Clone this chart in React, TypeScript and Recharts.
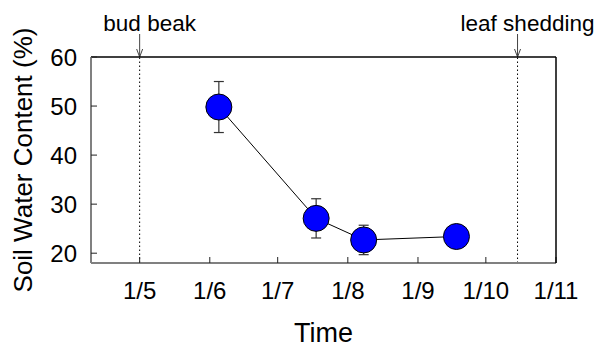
import React from 'react';
import {
  ComposedChart,
  Line,
  ErrorBar,
  XAxis,
  YAxis,
  ReferenceLine
} from 'recharts';

// day of year (non-leap): sampling dates
const sampleDays = [156, 199, 220, 261]; // 5 Jun, 18 Jul, 8 Aug, 18 Sep
const soilWater = [49.8, 27.1, 22.7, 23.4];
const soilWaterErr = [5.2, 4.0, 3.0, 0.8];

// month starts, labelled day/month
const tickDays = [121, 152, 182, 213, 244, 274, 305];
const tickLabels = ['1/5', '1/6', '1/7', '1/8', '1/9', '1/10', '1/11'];
const yTicks = [20, 30, 40, 50, 60];

const budBreakDay = 121;
const leafSheddingDay = 288;

const X_DOMAIN: [number, number] = [99.5, 305];
const Y_DOMAIN: [number, number] = [18, 60];

const data = sampleDays.map((day, i) => ({
  day,
  swc: soilWater[i],
  err: soilWaterErr[i]
}));

// five minor intervals per month
const minorTicks: number[] = [];
for (let i = 0; i < tickDays.length - 1; i++) {
  const step = (tickDays[i + 1] - tickDays[i]) / 5;
  for (let k = 1; k < 5; k++) minorTicks.push(tickDays[i] + k * step);
}
for (let k = 1; tickDays[0] - k * 6.2 > X_DOMAIN[0]; k++) {
  minorTicks.push(tickDays[0] - k * 6.2);
}

const fontFamily = '"Liberation Sans", Arial, Helvetica, sans-serif';

const annotation = (text: string) => (props: any) => {
  const { x, y } = props.viewBox;
  return (
    <g>
      <text
        x={x + 10}
        y={y - 26}
        textAnchor="middle"
        fontSize={22.5}
        fill="#000"
        fontFamily={fontFamily}
      >
        {text}
      </text>
      <line x1={x} y1={y - 23} x2={x} y2={y} stroke="#444" strokeWidth={1} />
      <polyline
        points={`${x - 3},${y - 8} ${x},${y} ${x + 3},${y - 8}`}
        fill="none"
        stroke="#444"
        strokeWidth={1}
      />
    </g>
  );
};

export default function App() {
  return (
    <div style={{ position: 'absolute', left: 0, top: 0, fontFamily }}>
      <ComposedChart
        width={596}
        height={350}
        data={data}
        margin={{ top: 57, right: 40, left: 0, bottom: 0 }}
      >
        <XAxis
          dataKey="day"
          type="number"
          domain={X_DOMAIN}
          allowDataOverflow
          ticks={tickDays}
          interval={0}
          tickFormatter={(v: number) => tickLabels[tickDays.indexOf(v)] ?? ''}
          tickSize={-6}
          tickMargin={25}
          tickLine={{ stroke: '#222' }}
          axisLine={{ stroke: '#808080', strokeWidth: 2 }}
          tick={{ fontSize: 24, fill: '#000' }}
          height={87}
          label={{
            value: 'Time',
            position: 'insideBottom',
            offset: 8,
            fontSize: 27,
            fill: '#000'
          }}
        />
        <XAxis
          xAxisId="minor"
          type="number"
          domain={X_DOMAIN}
          allowDataOverflow
          ticks={minorTicks}
          interval={0}
          orientation="bottom"
          mirror
          height={1}
          tickSize={3}
          tick={false}
          tickLine={{ stroke: '#222' }}
          axisLine={false}
        />
        <XAxis
          xAxisId="top"
          type="number"
          domain={X_DOMAIN}
          allowDataOverflow
          ticks={tickDays}
          interval={0}
          orientation="top"
          mirror
          height={1}
          tickSize={5}
          tick={false}
          tickLine={{ stroke: '#222' }}
          axisLine={{ stroke: '#000', strokeWidth: 1.5 }}
        />
        <YAxis
          type="number"
          domain={Y_DOMAIN}
          allowDataOverflow
          ticks={yTicks}
          interval={0}
          tickSize={-6}
          tickMargin={20}
          tickLine={{ stroke: '#222' }}
          axisLine={{ stroke: '#808080', strokeWidth: 2 }}
          tick={{ fontSize: 24, fill: '#000' }}
          width={91}
          label={{
            value: 'Soil Water Content (%)',
            angle: -90,
            position: 'insideLeft',
            offset: 23,
            fontSize: 26,
            fill: '#000',
            style: { textAnchor: 'middle' }
          }}
        />
        <YAxis
          yAxisId="right"
          type="number"
          domain={Y_DOMAIN}
          allowDataOverflow
          ticks={yTicks}
          interval={0}
          orientation="right"
          mirror
          width={1}
          tickSize={5}
          tick={false}
          tickLine={{ stroke: '#222' }}
          axisLine={{ stroke: '#000', strokeWidth: 1.5 }}
        />
        <ReferenceLine
          x={budBreakDay}
          stroke="#000"
          strokeDasharray="1.5 2.5"
          label={{ content: annotation('bud beak') }}
        />
        <ReferenceLine
          x={leafSheddingDay}
          stroke="#000"
          strokeDasharray="1.5 2.5"
          label={{ content: annotation('leaf shedding') }}
        />
        <Line
          type="linear"
          dataKey="swc"
          stroke="#000"
          strokeWidth={1}
          dot={{ r: 13, fill: '#0000ff', stroke: '#000', strokeWidth: 1 }}
          activeDot={false}
          isAnimationActive={false}
        >
          <ErrorBar
            dataKey="err"
            direction="y"
            width={5}
            stroke="#333"
            strokeWidth={1.2}
            isAnimationActive={false}
          />
        </Line>
      </ComposedChart>
    </div>
  );
}
